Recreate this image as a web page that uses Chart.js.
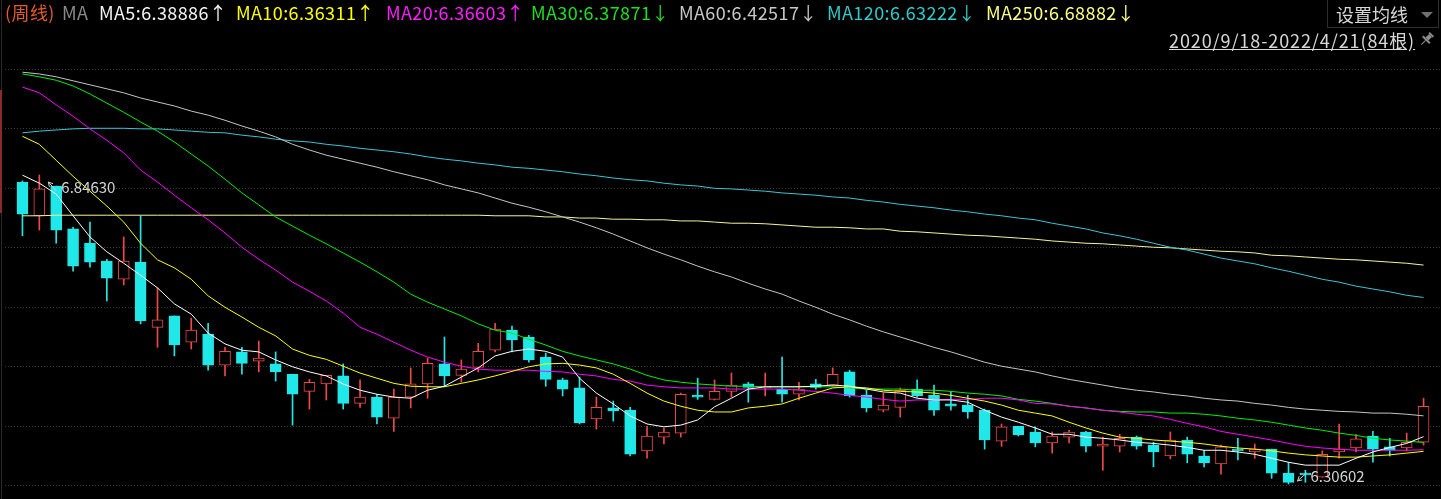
<!DOCTYPE html>
<html>
<head>
<meta charset="utf-8">
<script src="https://cdn.jsdelivr.net/npm/chart.js@4.4.1/dist/chart.umd.min.js"></script>
<style>
  body { margin: 0; background: #000; }
  #wrap { position: relative; width: 1441px; height: 499px; overflow: hidden; background: #000; }
  #kline { position: absolute; left: 0; top: 0; }
  .txt { position: absolute; white-space: nowrap; font-family: "Noto Sans CJK SC", "Noto Sans", sans-serif; }
  #legend span { position: absolute; top: 0; font-size: 18px; letter-spacing: 0.4px; line-height: 24px; }
  #maBtn { left: 1327px; top: -1px; width: 110px; height: 27px; border: 1px solid #2e2e2e; }
  #maBtn .label { position: absolute; left: 8px; top: 0; font-size: 18px; line-height: 28px; color: #d8d8d8; }
  #maBtn .tri { position: absolute; left: 93px; top: 12px; width: 0; height: 0;
    border-left: 6px solid transparent; border-right: 6px solid transparent; border-top: 6px solid #707070; }
  #range { left: 1169px; top: 28px; font-size: 18px; letter-spacing: 0.9px; line-height: 24px; color: #d8d8d8; text-decoration: underline; }
  #pin { position: absolute; left: 1419px; top: 31px; }
  #edge { position: absolute; left: 1px; top: 0; width: 1px; height: 499px; background: #2a2a2a; }
  #edgeMark { position: absolute; left: 0; top: 90px; width: 2px; height: 123px; background: #8a2a2a; }
</style>
</head>
<body>
<div id="wrap">
  <canvas id="kline" width="1441" height="499"></canvas>
  <div id="edge"></div>
  <div id="edgeMark"></div>
  <div id="legend" class="txt"></div>
  <div id="maBtn" class="txt"><span class="label">设置均线</span><span class="tri"></span></div>
  <div id="range" class="txt">2020/9/18-2022/4/21(84根)</div>
  <svg id="pin" width="16" height="16" viewBox="0 0 16 16">
    <g transform="rotate(45 8 8)" fill="#8c8c8c">
      <rect x="5" y="1" width="6" height="2"/>
      <rect x="6" y="3" width="4" height="5"/>
      <rect x="3" y="8" width="10" height="2"/>
      <rect x="7.5" y="10" width="1" height="6"/>
    </g>
  </svg>
</div>

<script>
// weekly K-line, 84 bars
const opens = [6.834,6.775,6.827,6.752,6.727,6.696,6.664,6.694,6.580,6.600,
  6.554,6.568,6.514,6.537,6.521,6.516,6.498,6.468,6.481,6.495,
  6.447,6.458,6.421,6.458,6.481,6.516,6.496,6.510,6.540,6.575,
  6.563,6.528,6.488,6.474,6.420,6.439,6.435,6.364,6.388,6.395,
  6.461,6.454,6.468,6.481,6.474,6.472,6.463,6.481,6.479,6.502,
  6.461,6.435,6.440,6.472,6.461,6.446,6.444,6.435,6.381,6.407,
  6.397,6.378,6.388,6.397,6.372,6.372,6.388,6.374,6.355,6.383,
  6.355,6.341,6.367,6.362,6.367,6.325,6.325,6.318,6.362,6.369,
  6.390,6.371,6.369,6.379];
const highs = [6.836,6.8463,6.827,6.755,6.764,6.699,6.738,6.775,6.649,6.600,
  6.596,6.587,6.545,6.545,6.556,6.537,6.498,6.489,6.496,6.516,
  6.488,6.463,6.472,6.509,6.526,6.563,6.523,6.552,6.587,6.582,
  6.566,6.535,6.491,6.493,6.458,6.451,6.440,6.407,6.404,6.465,
  6.491,6.488,6.500,6.484,6.500,6.528,6.484,6.489,6.509,6.505,
  6.470,6.465,6.474,6.488,6.479,6.468,6.461,6.437,6.411,6.407,
  6.406,6.397,6.400,6.398,6.388,6.393,6.390,6.379,6.397,6.388,
  6.365,6.374,6.386,6.376,6.367,6.344,6.330,6.364,6.411,6.393,
  6.398,6.386,6.395,6.456];
const lows = [6.740,6.750,6.727,6.678,6.685,6.626,6.654,6.586,6.545,6.530,
  6.542,6.505,6.495,6.498,6.502,6.486,6.409,6.437,6.453,6.437,
  6.440,6.411,6.398,6.439,6.456,6.477,6.484,6.502,6.537,6.537,
  6.519,6.477,6.460,6.411,6.402,6.416,6.355,6.351,6.376,6.388,
  6.454,6.453,6.458,6.449,6.460,6.449,6.453,6.472,6.477,6.458,
  6.432,6.432,6.423,6.458,6.426,6.435,6.421,6.367,6.372,6.390,
  6.371,6.360,6.378,6.362,6.330,6.362,6.367,6.336,6.350,6.343,
  6.336,6.323,6.348,6.351,6.316,6.30602,6.309,6.318,6.351,6.362,
  6.344,6.355,6.364,6.374];
const closes = [6.778,6.822,6.750,6.687,6.694,6.666,6.696,6.591,6.593,6.549,
  6.575,6.514,6.538,6.517,6.526,6.502,6.463,6.484,6.496,6.447,
  6.458,6.423,6.458,6.481,6.517,6.495,6.507,6.538,6.577,6.558,
  6.523,6.489,6.472,6.413,6.440,6.434,6.358,6.390,6.397,6.463,
  6.458,6.468,6.479,6.475,6.477,6.463,6.472,6.475,6.498,6.460,
  6.439,6.444,6.470,6.460,6.435,6.442,6.432,6.383,6.406,6.392,
  6.378,6.390,6.397,6.372,6.376,6.386,6.372,6.362,6.383,6.358,
  6.343,6.371,6.364,6.367,6.325,6.309,6.322,6.358,6.367,6.385,
  6.367,6.365,6.379,6.442];

// moving averages
const ma5 = [6.846,6.832,6.813,6.775,6.738,6.712,6.692,6.671,6.649,6.621,
  6.603,6.570,6.551,6.540,6.537,6.523,6.511,6.502,6.495,6.481,
  6.470,6.463,6.458,6.456,6.470,6.477,6.493,6.509,6.530,6.538,
  6.542,6.538,6.528,6.491,6.465,6.446,6.425,6.411,6.406,6.409,
  6.418,6.441,6.456,6.472,6.476,6.476,6.476,6.477,6.479,6.477,
  6.472,6.467,6.465,6.456,6.453,6.453,6.449,6.435,6.423,6.414,
  6.404,6.393,6.393,6.388,6.386,6.383,6.379,6.377,6.374,6.370,
  6.365,6.365,6.362,6.358,6.351,6.344,6.339,6.339,6.339,6.351,
  6.362,6.370,6.377,6.38886];
const ma10 = [6.914,6.900,6.872,6.844,6.818,6.792,6.764,6.727,6.698,6.684,
  6.664,6.635,6.615,6.598,6.580,6.565,6.542,6.531,6.524,6.512,
  6.500,6.491,6.482,6.477,6.476,6.476,6.482,6.488,6.495,6.503,
  6.511,6.516,6.517,6.514,6.509,6.498,6.482,6.465,6.451,6.442,
  6.435,6.432,6.432,6.439,6.442,6.446,6.456,6.465,6.474,6.476,
  6.474,6.470,6.468,6.467,6.465,6.461,6.456,6.451,6.444,6.435,
  6.430,6.425,6.414,6.404,6.395,6.388,6.386,6.383,6.381,6.379,
  6.376,6.372,6.369,6.367,6.364,6.360,6.357,6.355,6.353,6.353,
  6.355,6.357,6.360,6.36311];
const ma20 = [7.000,6.990,6.969,6.949,6.927,6.907,6.885,6.855,6.834,6.811,
  6.789,6.768,6.745,6.720,6.699,6.680,6.659,6.643,6.626,6.605,
  6.580,6.568,6.554,6.540,6.528,6.519,6.512,6.507,6.505,6.505,
  6.505,6.503,6.502,6.498,6.495,6.489,6.486,6.479,6.476,6.474,
  6.474,6.474,6.472,6.472,6.472,6.472,6.470,6.468,6.465,6.461,
  6.458,6.454,6.451,6.453,6.453,6.454,6.454,6.456,6.456,6.453,
  6.447,6.446,6.442,6.439,6.435,6.432,6.428,6.425,6.419,6.412,
  6.406,6.398,6.393,6.388,6.383,6.377,6.372,6.369,6.367,6.365,
  6.365,6.365,6.365,6.36603];
const ma30 = [7.023,7.018,7.012,7.002,6.988,6.972,6.956,6.939,6.923,6.904,
  6.883,6.862,6.839,6.815,6.794,6.773,6.757,6.741,6.726,6.710,
  6.694,6.677,6.659,6.638,6.624,6.612,6.600,6.586,6.575,6.570,
  6.559,6.549,6.538,6.530,6.523,6.516,6.507,6.496,6.488,6.484,
  6.481,6.479,6.477,6.477,6.476,6.476,6.476,6.476,6.476,6.474,
  6.472,6.472,6.472,6.470,6.470,6.468,6.465,6.463,6.460,6.454,
  6.451,6.447,6.442,6.439,6.435,6.433,6.432,6.432,6.430,6.430,
  6.428,6.425,6.421,6.418,6.414,6.409,6.404,6.400,6.395,6.391,
  6.386,6.383,6.381,6.37871];
const ma60 = [7.026,7.023,7.018,7.011,7.004,6.997,6.990,6.981,6.974,6.967,
  6.958,6.951,6.942,6.932,6.923,6.913,6.900,6.890,6.881,6.874,
  6.867,6.860,6.852,6.845,6.838,6.829,6.822,6.815,6.806,6.797,
  6.790,6.782,6.773,6.764,6.754,6.743,6.731,6.719,6.708,6.698,
  6.687,6.677,6.668,6.657,6.647,6.638,6.626,6.615,6.603,6.593,
  6.582,6.572,6.563,6.554,6.545,6.537,6.528,6.519,6.512,6.507,
  6.502,6.495,6.489,6.484,6.479,6.474,6.470,6.467,6.463,6.460,
  6.456,6.453,6.451,6.447,6.444,6.440,6.437,6.435,6.433,6.432,
  6.430,6.430,6.428,6.42517];
const ma120 = [6.920,6.923,6.925,6.927,6.928,6.928,6.928,6.927,6.927,6.925,
  6.923,6.921,6.920,6.916,6.913,6.909,6.906,6.904,6.900,6.897,
  6.893,6.890,6.887,6.883,6.878,6.874,6.871,6.867,6.864,6.860,
  6.858,6.855,6.852,6.848,6.845,6.841,6.838,6.836,6.832,6.829,
  6.827,6.823,6.822,6.820,6.818,6.815,6.813,6.811,6.808,6.806,
  6.802,6.799,6.795,6.792,6.789,6.785,6.782,6.778,6.775,6.771,
  6.768,6.762,6.757,6.752,6.745,6.740,6.734,6.727,6.720,6.715,
  6.708,6.701,6.696,6.691,6.684,6.678,6.671,6.664,6.659,6.652,
  6.647,6.642,6.636,6.63222];
const ma250 = [6.775,6.775,6.776,6.776,6.776,6.776,6.776,6.776,6.776,6.776,
  6.776,6.776,6.776,6.776,6.776,6.776,6.776,6.776,6.776,6.776,
  6.776,6.776,6.776,6.776,6.776,6.776,6.776,6.776,6.775,6.775,
  6.775,6.773,6.773,6.771,6.771,6.769,6.769,6.768,6.768,6.766,
  6.766,6.764,6.762,6.762,6.761,6.759,6.757,6.755,6.755,6.754,
  6.752,6.752,6.748,6.747,6.745,6.743,6.741,6.740,6.738,6.736,
  6.734,6.731,6.729,6.727,6.726,6.724,6.722,6.720,6.719,6.717,
  6.715,6.713,6.712,6.710,6.706,6.705,6.703,6.701,6.699,6.698,
  6.696,6.694,6.692,6.68882];

// week labels starting 2020/9/18
const weeks = [];
for (let i = 0; i < opens.length; i++) {
  const d = new Date(2020, 8, 18 + i * 7);
  weeks.push(`${d.getFullYear()}/${d.getMonth() + 1}/${d.getDate()}`);
}

const upColor = "#ee4848";
const downColor = "#20e8e8";

const maLines = [
  { name: "MA5", data: ma5, color: "#ffffff", text: "#f4f4f4", left: 99 },
  { name: "MA10", data: ma10, color: "#ffff00", text: "#ffff00", left: 236 },
  { name: "MA20", data: ma20, color: "#ff00ff", text: "#ff1eff", left: 386 },
  { name: "MA30", data: ma30, color: "#00f000", text: "#1ee01e", left: 531 },
  { name: "MA60", data: ma60, color: "#c4c4c4", text: "#c8c8c8", left: 679 },
  { name: "MA120", data: ma120, color: "#3cc4d4", text: "#2ccccc", left: 827 },
  { name: "MA250", data: ma250, color: "#f4f49c", text: "#ffff80", left: 986 },
];

// header legend
const legend = document.getElementById("legend");
legend.innerHTML =
  '<span style="left:5px;color:#e45a2a">(周线)</span>' +
  '<span style="left:62px;color:#8a8a8a">MA</span>';
maLines.forEach((m) => {
  const n = m.data.length;
  const arrow = m.data[n - 1] >= m.data[n - 2] ? "↑" : "↓";
  const s = document.createElement("span");
  s.style.left = m.left + "px";
  s.style.color = m.text;
  s.textContent = `${m.name}:${m.data[n - 1].toFixed(5)}${arrow}`;
  legend.appendChild(s);
});

const isUp = closes.map((c, i) => c >= opens[i]);

// dotted panel grid
const gridTop = 7.0316;
const gridStep = 0.10389;
const gridPlugin = {
  id: "panelGrid",
  beforeDatasetsDraw(chart) {
    const { ctx } = chart;
    const y = chart.scales.y;
    ctx.save();
    ctx.strokeStyle = "#3a3a3a";
    ctx.lineWidth = 1;
    ctx.setLineDash([1, 2]);
    for (let k = 0; k < 8; k++) {
      const py = Math.round(y.getPixelForValue(gridTop - k * gridStep)) + 0.5;
      ctx.beginPath();
      ctx.moveTo(5, py);
      ctx.lineTo(chart.width, py);
      ctx.stroke();
    }
    ctx.restore();
  },
};

function drawArrow(ctx, x1, y1, x2, y2) {
  const a = Math.atan2(y2 - y1, x2 - x1);
  ctx.beginPath();
  ctx.moveTo(x1, y1);
  ctx.lineTo(x2, y2);
  ctx.moveTo(x2, y2);
  ctx.lineTo(x2 - 5 * Math.cos(a - 0.5), y2 - 5 * Math.sin(a - 0.5));
  ctx.moveTo(x2, y2);
  ctx.lineTo(x2 - 5 * Math.cos(a + 0.5), y2 - 5 * Math.sin(a + 0.5));
  ctx.stroke();
}

// highest / lowest price markers
const extremesPlugin = {
  id: "extremes",
  afterDatasetsDraw(chart) {
    const { ctx } = chart;
    const { x, y } = chart.scales;
    const hi = highs.indexOf(Math.max(...highs));
    const lo = lows.indexOf(Math.min(...lows));
    ctx.save();
    ctx.strokeStyle = "#cfcfcf";
    ctx.fillStyle = "#d4d4d4";
    ctx.lineWidth = 1;
    ctx.font = '15px "Noto Sans CJK SC", sans-serif';
    ctx.textBaseline = "middle";

    const hx = x.getPixelForValue(hi);
    const hy = y.getPixelForValue(highs[hi]);
    drawArrow(ctx, hx + 17, hy + 16, hx + 9, hy + 7);
    ctx.fillText(highs[hi].toFixed(5), hx + 22, hy + 12);

    const lx = x.getPixelForValue(lo);
    const ly = y.getPixelForValue(lows[lo]);
    drawArrow(ctx, lx + 18, ly - 11, lx + 9, ly - 3);
    ctx.fillText(lows[lo].toFixed(5), lx + 22, ly - 8);
    ctx.restore();
  },
};

const lineSets = maLines.map((m) => ({
  type: "line",
  label: m.name,
  data: m.data,
  borderColor: m.color,
  borderWidth: 1,
  pointRadius: 0,
  tension: 0,
  order: 0,
}));

new Chart(document.getElementById("kline"), {
  type: "bar",
  data: {
    labels: weeks,
    datasets: [
      ...lineSets,
      {
        label: "实体",
        data: opens.map((o, i) => [o, closes[i]]),
        backgroundColor: isUp.map((u) => (u ? "#000000" : downColor)),
        borderColor: isUp.map((u) => (u ? upColor : downColor)),
        borderWidth: 1,
        borderSkipped: false,
        barThickness: 11,
        minBarLength: 1,
        grouped: false,
        order: 1,
      },
      {
        label: "影线",
        data: lows.map((l, i) => [l, highs[i]]),
        backgroundColor: isUp.map((u) => (u ? upColor : downColor)),
        borderWidth: 0,
        barThickness: 1,
        grouped: false,
        order: 2,
      },
    ],
  },
  options: {
    responsive: false,
    animation: false,
    layout: { padding: { left: 14, right: 9, top: 0, bottom: 0 } },
    scales: {
      x: { display: false, offset: true },
      y: { display: false, min: 6.2798, max: 7.1523 },
    },
    plugins: {
      legend: { display: false },
      tooltip: { enabled: false },
    },
  },
  plugins: [gridPlugin, extremesPlugin],
});
</script>
</body>
</html>
